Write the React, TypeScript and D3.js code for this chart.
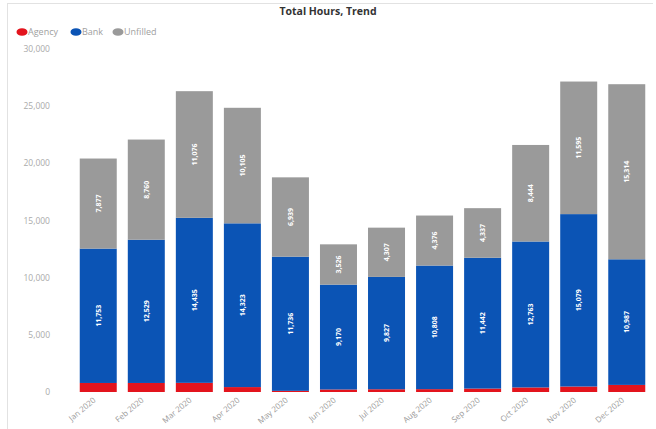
import React from "react";
import * as d3 from "d3";

const months = ["Jan 2020","Feb 2020","Mar 2020","Apr 2020","May 2020","Jun 2020","Jul 2020","Aug 2020","Sep 2020","Oct 2020","Nov 2020","Dec 2020"];
const agency = [790, 790, 800, 430, 100, 220, 240, 250, 300, 400, 480, 620];
const bank = [11753, 12529, 14435, 14323, 11736, 9170, 9827, 10808, 11442, 12763, 15079, 10987];
const unfilled = [7877, 8760, 11076, 10105, 6939, 3526, 4307, 4376, 4337, 8444, 11595, 15314];
const yTicks = [0, 5000, 10000, 15000, 20000, 25000, 30000];
const seriesNames = ["Agency", "Bank", "Unfilled"];
const colors = ["#e3141d", "#0b54b5", "#9a9a9a"];

export default function App() {
  const W = 656, H = 429;
  const x = d3.scaleBand<string>().domain(months).range([73.5, 651.5]).paddingInner(0.23).paddingOuter(0.13);
  const y = d3.scaleLinear().domain([0, 30000]).range([392, 49]);
  const fmt = d3.format(",");
  const rows = months.map((m, i) => ({ m, agency: agency[i], bank: bank[i], unfilled: unfilled[i] }));
  const stack = d3.stack<any>().keys(["agency", "bank", "unfilled"])(rows);
  const font = "'Open Sans', 'Liberation Sans', sans-serif";
  const legendX = [22, 76, 118];
  return (
    <svg width={W} height={H} style={{ position: "absolute", left: 0, top: 0, background: "#fff" }} fontFamily={font}>
      <line x1={7.5} y1={3} x2={7.5} y2={H} stroke="#e2e2e2" />
      <line x1={7.5} y1={3.5} x2={W - 3} y2={3.5} stroke="#e2e2e2" />
      <text x={328} y={15} textAnchor="middle" fontSize={10.5} fontWeight="bold" fill="#333">Total Hours, Trend</text>
      {seriesNames.map((s, i) => (
        <g key={s}>
          <ellipse cx={legendX[i]} cy={32} rx={5.5} ry={3.8} fill={colors[i]} />
          <text x={legendX[i] + 6} y={35} fontSize={9} fill="#a0a0a0">{s}</text>
        </g>
      ))}
      {yTicks.map(t => (
        <text key={t} x={50} y={y(t) + 3} textAnchor="end" fontSize={8.5} fill="#aaa">{t === 0 ? "0" : fmt(t)}</text>
      ))}
      {stack.map((layer, si) => (
        <g key={si} fill={colors[si]}>
          {layer.map((d, i) => (
            <rect key={i} x={x(months[i])} y={y(d[1])} width={x.bandwidth()} height={y(d[0]) - y(d[1])} />
          ))}
        </g>
      ))}
      {stack.slice(1).map((layer, si) => (
        <g key={"l" + si}>
          {layer.map((d, i) => {
            const cx = (x(months[i]) as number) + x.bandwidth() / 2;
            const cy = (y(d[0]) + y(d[1])) / 2;
            return (
              <text key={i} transform={`translate(${cx + 2.5},${cy}) rotate(-90)`} textAnchor="middle" fontSize={7} fontWeight="bold" fill="#fff">
                {fmt(d[1] - d[0])}
              </text>
            );
          })}
        </g>
      ))}
      {months.map(m => {
        const cx = (x(m) as number) + x.bandwidth() / 2;
        return (
          <text key={m} transform={`translate(${cx - 2},${401}) rotate(-40)`} textAnchor="end" fontSize={8} fill="#999">{m}</text>
        );
      })}
    </svg>
  );
}
